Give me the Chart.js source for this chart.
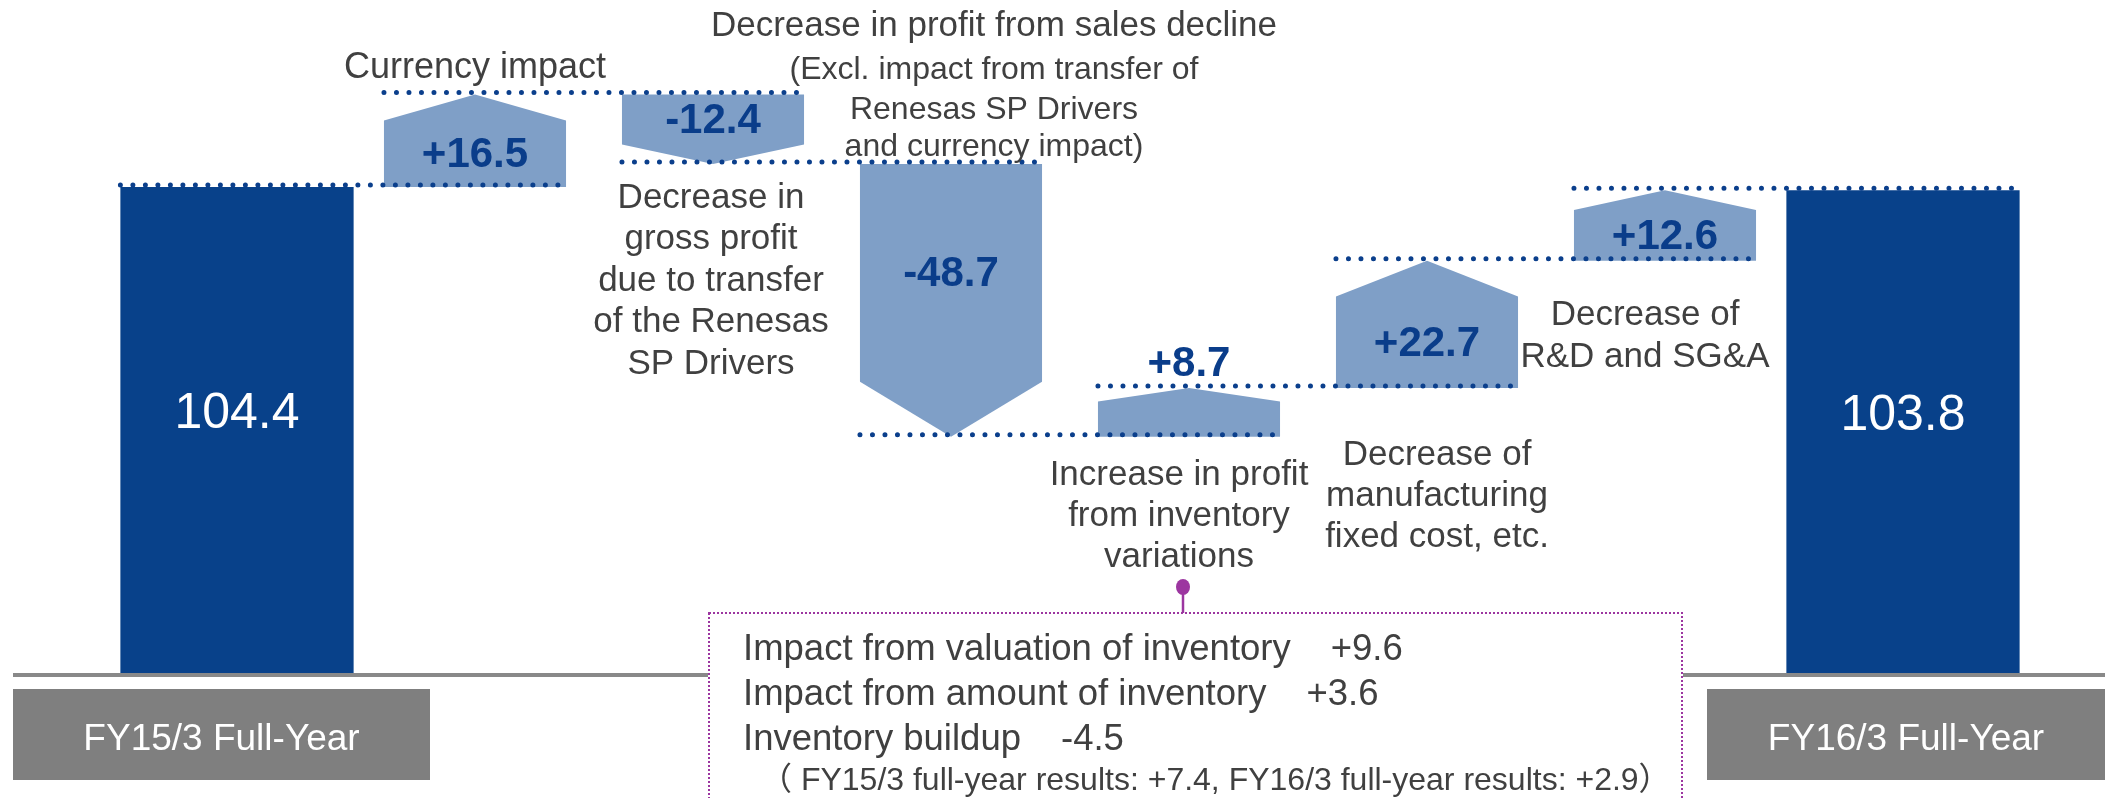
<!DOCTYPE html>
<html>
<head>
<meta charset="utf-8">
<script src="https://cdn.jsdelivr.net/npm/chart.js@4.4.1/dist/chart.umd.min.js"></script>
<style>
  html, body { margin: 0; padding: 0; background: #fff; }
  #wrap { width: 2105px; height: 798px; position: relative; }
</style>
</head>
<body>
<div id="wrap"><canvas id="bridge"></canvas></div>
<script>
const categories = ['FY15/3 Full-Year', 'Currency impact', 'Transfer of Renesas SP Drivers', 'Sales decline',
    'Inventory variations', 'Manufacturing fixed cost', 'R&D and SG&A', 'FY16/3 Full-Year']
const totals = [104.4, null, null, null, null, null, null, 103.8]
const changes = [null, 16.5, -12.4, -48.7, 8.7, 22.7, 12.6, null]

const notes = [
    null,
    ['Currency impact'],
    ['Decrease in', 'gross profit', 'due to transfer', 'of the Renesas', 'SP Drivers'],
    ['Decrease in profit from sales decline', '(Excl. impact from transfer of', 'Renesas SP Drivers', 'and currency impact)'],
    ['Increase in profit', 'from inventory', 'variations'],
    ['Decrease of', 'manufacturing', 'fixed cost, etc.'],
    ['Decrease of', 'R&D and SG&A'],
    null,
]

const inventoryItems = ['Impact from valuation of inventory', 'Impact from amount of inventory', 'Inventory buildup']
const inventoryValues = [9.6, 3.6, -4.5]
const inventoryNote = '（ FY15/3 full-year results: +7.4, FY16/3 full-year results: +2.9）'

// running total -> floating bars for the steps
const steps = []
let running = totals[0]
changes.forEach(c => {
    if (c === null) { steps.push(null); return }
    steps.push([running, +(running + c).toFixed(1)])
    running = +(running + c).toFixed(1)
})

const FONT = '"Liberation Sans", Arial, "Noto Sans CJK JP", sans-serif'
const BLUE = '#08418a'
const LIGHT = '#7f9fc7'
const DOT = '#0b3f8c'
const TEXT = '#404040'
const PURPLE = '#9c36a0'

const signed = v => (v > 0 ? '+' : '') + v.toFixed(1)

function elementAt(chart, i) {
    return chart.getDatasetMeta(totals[i] !== null ? 0 : 1).data[i]
}

function arrowBox(el) {
    const top = Math.min(el.y, el.base)
    const bottom = Math.max(el.y, el.base)
    const tip = Math.min((bottom - top) * 0.28, 55)
    return { top, bottom, tip, l: el.x - el.width / 2, r: el.x + el.width / 2 }
}

function lines(ctx, arr, x, baselines, sizes) {
    arr.forEach((t, k) => {
        ctx.font = sizes[Math.min(k, sizes.length - 1)] + 'px ' + FONT
        ctx.fillText(t, x, baselines[k])
    })
}

const bridgePlugin = {
    id: 'bridge',
    beforeDatasetsDraw(chart) {
        const { ctx, chartArea } = chart
        ctx.save()
        ctx.fillStyle = '#898989'
        ctx.fillRect(13, chartArea.bottom, chart.width - 13, 4)
        ctx.restore()
    },
    afterDatasetsDraw(chart) {
        const { ctx, chartArea, scales: { y } } = chart
        const arrows = chart.getDatasetMeta(1).data
        const bars = chart.getDatasetMeta(0).data
        const y0 = chartArea.bottom
        ctx.save()

        // arrow shapes
        changes.forEach((c, i) => {
            if (c === null) return
            const el = arrows[i]
            const { top, bottom, tip, l, r } = arrowBox(el)
            ctx.beginPath()
            if (c > 0) {
                ctx.moveTo(l, bottom); ctx.lineTo(l, top + tip); ctx.lineTo(el.x, top)
                ctx.lineTo(r, top + tip); ctx.lineTo(r, bottom)
            } else {
                ctx.moveTo(l, top); ctx.lineTo(r, top); ctx.lineTo(r, bottom - tip)
                ctx.lineTo(el.x, bottom); ctx.lineTo(l, bottom - tip)
            }
            ctx.closePath()
            ctx.fillStyle = LIGHT
            ctx.fill()
        })

        // dotted connectors
        ctx.strokeStyle = DOT
        ctx.lineWidth = 5
        ctx.lineCap = 'round'
        ctx.setLineDash([0, 12.5])
        for (let i = 0; i < categories.length - 1; i++) {
            const a = elementAt(chart, i), b = elementAt(chart, i + 1)
            const lvl = totals[i] !== null ? totals[i] : steps[i][1]
            const py = y.getPixelForValue(lvl) - 2
            ctx.beginPath()
            ctx.moveTo(a.x - a.width / 2, py)
            ctx.lineTo(b.x + b.width / 2, py)
            ctx.stroke()
        }
        ctx.setLineDash([])

        // step values
        ctx.textAlign = 'center'
        ctx.fillStyle = '#0a3d8a'
        ctx.font = 'bold 42px ' + FONT
        changes.forEach((c, i) => {
            if (c === null) return
            const el = arrows[i]
            const { top, bottom, tip } = arrowBox(el)
            if (bottom - top < 50) {
                ctx.textBaseline = 'alphabetic'
                ctx.fillText(signed(c), el.x, top - 12)
            } else {
                const mid = c > 0 ? (top + tip + bottom) / 2 : (top + bottom - tip) / 2
                ctx.textBaseline = 'middle'
                ctx.fillText(signed(c), el.x, mid + 2)
            }
        })

        // totals
        ctx.textBaseline = 'alphabetic'
        ctx.fillStyle = '#fff'
        ctx.font = '50px ' + FONT
        totals.forEach((t, i) => {
            if (t === null) return
            const el = bars[i]
            ctx.fillText(t.toFixed(1), el.x, (el.y + y0) / 2 - 2)
        })

        // category boxes under the totals
        ctx.font = '37px ' + FONT
        totals.forEach((t, i) => {
            if (t === null) return
            const el = bars[i]
            const left = i === 0 ? el.x - 224 : el.x - 196
            const right = i === 0 ? el.x + 193 : el.x + 202
            ctx.fillStyle = '#7f7f7f'
            ctx.fillRect(left, y0 + 16, right - left, 91)
            ctx.fillStyle = '#fff'
            ctx.fillText(categories[i], (left + right) / 2, y0 + 77)
        })

        // step notes
        ctx.fillStyle = TEXT
        const cur = arrowBox(arrows[1])
        lines(ctx, notes[1], arrows[1].x, [cur.top - 17], [36])
        const gp = arrowBox(arrows[2])
        lines(ctx, notes[2], arrows[2].x - 2, [0, 1, 2, 3, 4].map(k => gp.bottom + 44 + k * 41.5), [35])
        const sd = arrowBox(arrows[3])
        lines(ctx, notes[3], arrows[3].x + 43, [sd.top - 128, sd.top - 85, sd.top - 45, sd.top - 8], [35, 32])
        lines(ctx, notes[4], arrows[4].x - 10, [485, 526, 567], [35])
        lines(ctx, notes[5], arrows[5].x + 10, [465, 506, 547], [35])
        lines(ctx, notes[6], arrows[6].x - 20, [325, 367], [35])

        // inventory breakdown box
        ctx.fillStyle = '#fff'
        ctx.fillRect(708, 612, 975, 200)
        ctx.strokeStyle = PURPLE
        ctx.lineWidth = 2
        ctx.lineCap = 'butt'
        ctx.setLineDash([2, 2])
        ctx.strokeRect(709, 613, 973, 200)
        ctx.setLineDash([])
        ctx.lineWidth = 2.5
        ctx.beginPath()
        ctx.moveTo(1183, 590)
        ctx.lineTo(1183, 613)
        ctx.stroke()
        ctx.fillStyle = PURPLE
        ctx.beginPath()
        ctx.ellipse(1183, 587, 7, 8, 0, 0, Math.PI * 2)
        ctx.fill()

        ctx.textAlign = 'left'
        ctx.fillStyle = TEXT
        ctx.font = '36.5px ' + FONT
        inventoryItems.forEach((t, k) => {
            const by = 660 + k * 45
            ctx.fillText(t, 743, by)
            const w = ctx.measureText(t).width
            ctx.fillText(signed(inventoryValues[k]), 743 + w + 40, by)
        })
        ctx.font = '32px ' + FONT
        ctx.fillText(inventoryNote, 760, 790)

        ctx.restore()
    },
}

new Chart(document.getElementById('bridge'), {
    type: 'bar',
    data: {
        labels: categories,
        datasets: [
            {
                label: 'Operating income',
                data: totals,
                backgroundColor: BLUE,
                barPercentage: 0.98,
                categoryPercentage: 1,
                grouped: false,
                clip: 0,
            },
            {
                label: 'Change',
                data: steps,
                backgroundColor: 'rgba(0,0,0,0)',
                barPercentage: 0.765,
                categoryPercentage: 1,
                grouped: false,
            },
        ],
    },
    options: {
        responsive: true,
        maintainAspectRatio: false,
        animation: false,
        layout: { padding: { left: 118, right: 83, top: 0, bottom: 125 } },
        scales: {
            x: { display: false },
            // axis is cut like the slide: bars rise from the baseline, not from zero
            y: { display: false, min: 17.6, max: 137.78 },
        },
        plugins: {
            legend: { display: false },
            tooltip: { enabled: false },
        },
    },
    plugins: [bridgePlugin],
})
</script>
</body>
</html>
